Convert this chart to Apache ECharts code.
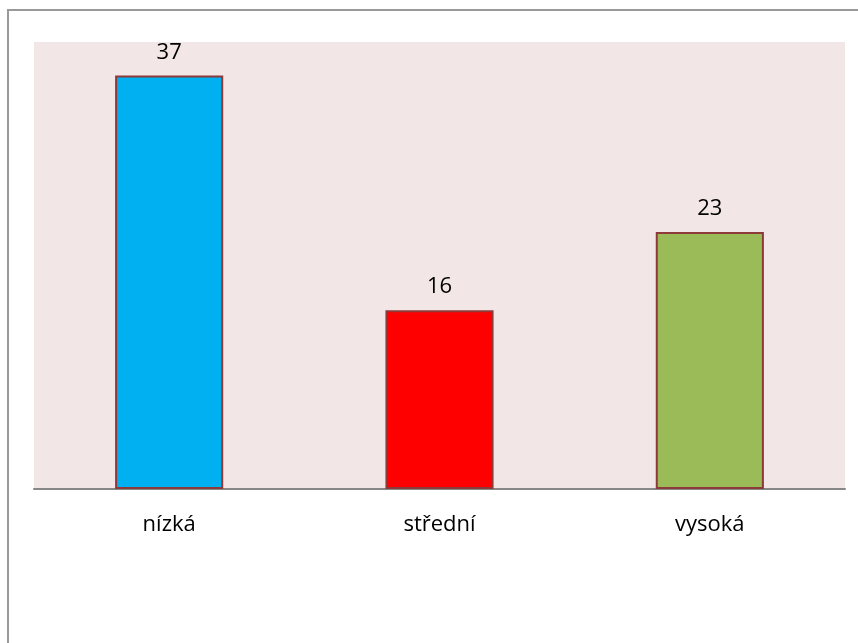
<!DOCTYPE html>
<html>
<head>
<meta charset="utf-8">
<script src="https://cdn.jsdelivr.net/npm/echarts@6/dist/echarts.min.js"></script>
<style>
  html, body { margin: 0; padding: 0; background: #ffffff; }
  #chart { width: 858px; height: 643px; }
</style>
</head>
<body>
<div id="chart"></div>
<script>
// Category names and counts for each level
const categories = ['nízká', 'střední', 'vysoká'];
const values = [37, 16, 23];
const barColors = ['#00B0F0', '#FF0000', '#9BBB59'];

const chart = echarts.init(document.getElementById('chart'), null, { renderer: 'canvas' });

chart.setOption({
  animation: false,
  backgroundColor: '#ffffff',
  textStyle: { fontFamily: '"Open Sans", sans-serif' },
  graphic: [{
    type: 'rect',
    z: -1,
    shape: { x: 8, y: 10, width: 900, height: 700 },
    style: { fill: 'none', stroke: '#999999', lineWidth: 2 }
  }],
  grid: {
    left: 34, right: 13, top: 42, bottom: 154,
    show: true,
    backgroundColor: '#F2E6E6',
    borderWidth: 0
  },
  xAxis: {
    type: 'category',
    data: categories,
    axisLine: { show: true, lineStyle: { color: '#878787', width: 2 } },
    axisTick: { show: false },
    axisLabel: {
      color: '#000000',
      fontSize: 22,
      fontFamily: '"Open Sans", sans-serif',
      margin: 25
    }
  },
  yAxis: {
    type: 'value',
    min: 0,
    max: 40,
    show: false,
    splitLine: { show: false }
  },
  series: [{
    type: 'bar',
    barWidth: '40%',
    data: values.map((v, i) => ({
      value: v,
      itemStyle: { color: barColors[i] }
    })),
    itemStyle: { borderColor: '#8E3A38', borderWidth: 2 },
    label: {
      show: true,
      position: 'top',
      distance: 12,
      color: '#000000',
      fontSize: 22,
      fontFamily: '"Open Sans", sans-serif'
    }
  }]
});
</script>
</body>
</html>
